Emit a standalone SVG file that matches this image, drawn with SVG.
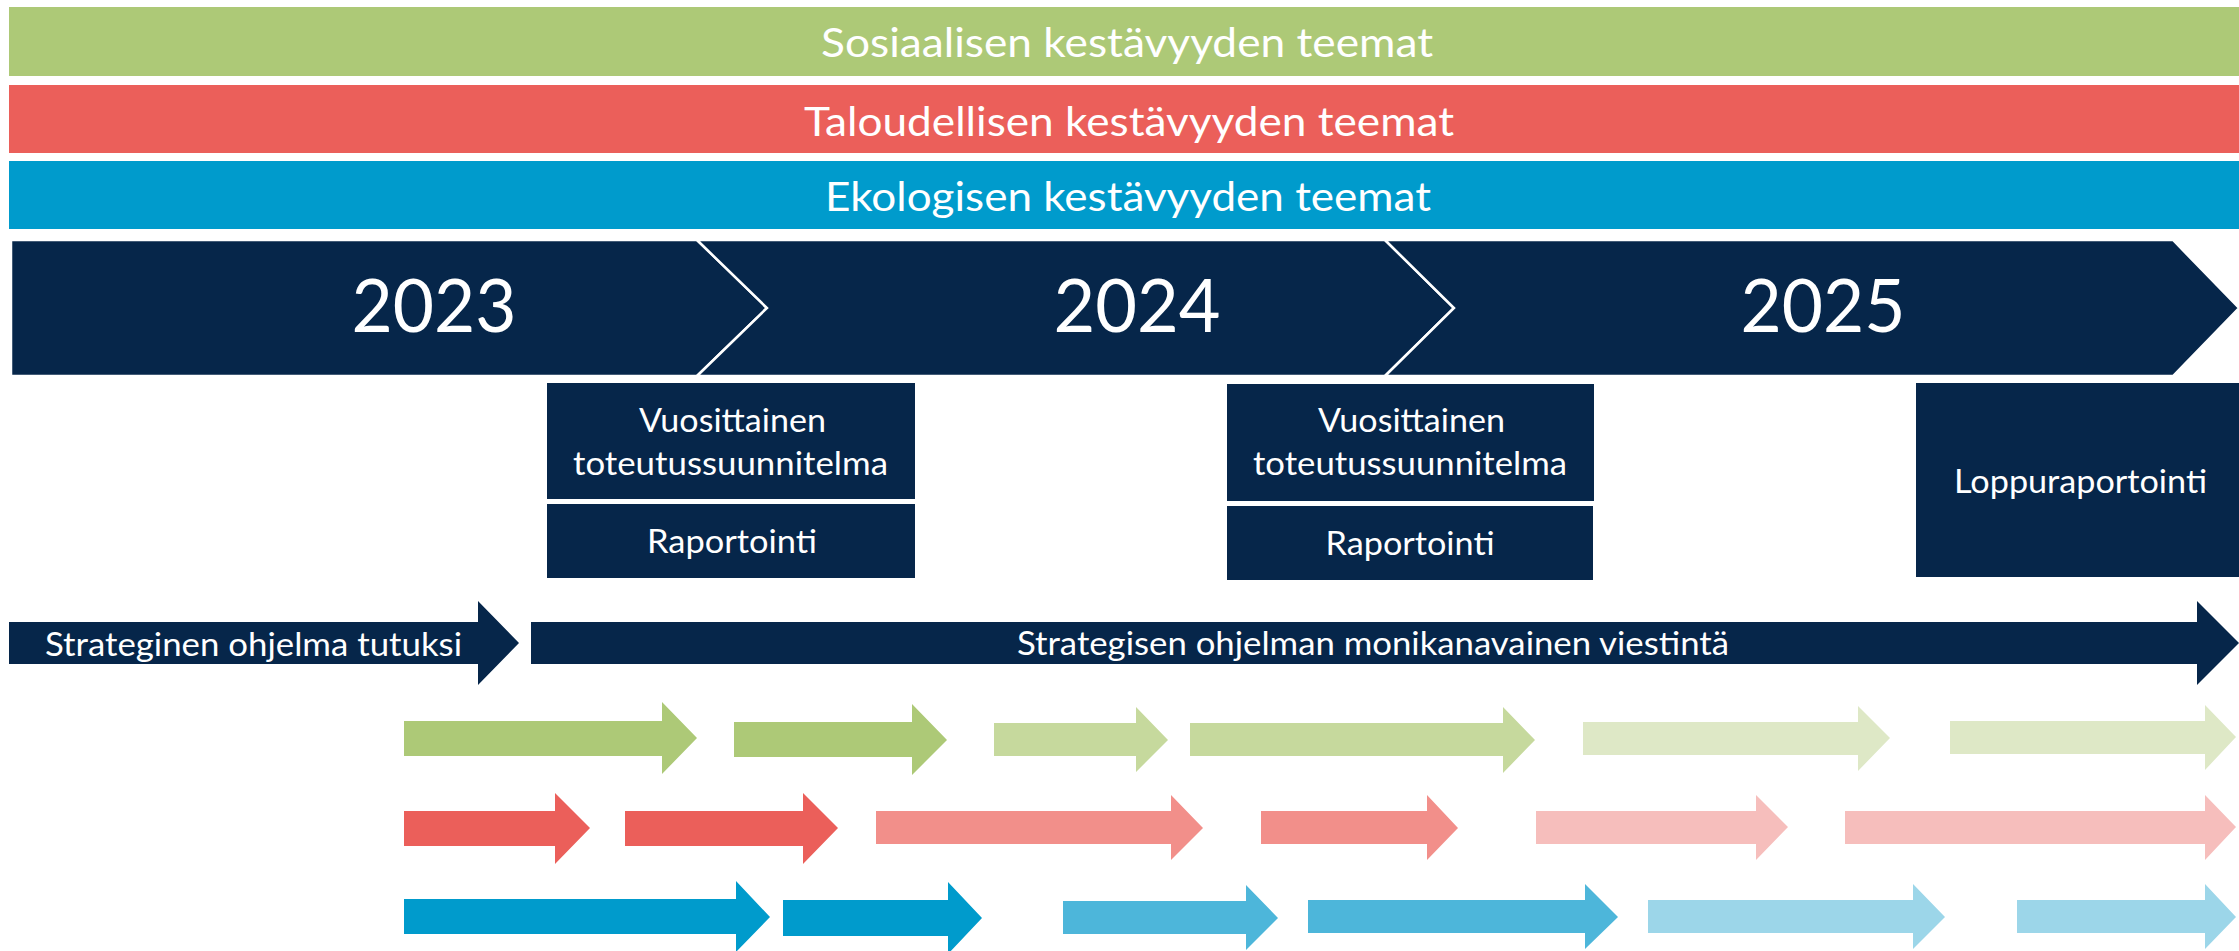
<svg xmlns="http://www.w3.org/2000/svg" width="2239" height="951" viewBox="0 0 2239 951">
<style>
.navy{fill:#06264A}
.g1{fill:#ADC977}.g2{fill:#C6D99D}.g3{fill:#DEE8C6}
.r1{fill:#EB5F5A}.r2{fill:#F28F8A}.r3{fill:#F6BEBC}
.b1{fill:#009BCC}.b2{fill:#4DB6DA}.b3{fill:#9CD6E9}
.chev{fill:#06264A;stroke:#FFFFFF;stroke-width:2.5;stroke-linejoin:miter}
text{font-family:Lato,"Open Sans","Liberation Sans",sans-serif;fill:#FFFFFF;text-anchor:middle}
.t-band{font-size:41px}
.t-year{font-size:74px}
.t-box{font-size:33px}
</style>
<rect width="2239" height="951" fill="#FFFFFF"/>

<g id="band-social">
<rect x="9" y="7" width="2230" height="69" class="g1"/>
<text x="1127" y="57" class="t-band" textLength="612" lengthAdjust="spacingAndGlyphs">Sosiaalisen kestävyyden teemat</text>
</g>
<g id="band-economic">
<rect x="9" y="85" width="2230" height="68" class="r1"/>
<text x="1129" y="136" class="t-band" textLength="650" lengthAdjust="spacingAndGlyphs">Taloudellisen kestävyyden teemat</text>
</g>
<g id="band-ecological">
<rect x="9" y="161" width="2230" height="68" class="b1"/>
<text x="1128" y="211" class="t-band" textLength="606" lengthAdjust="spacingAndGlyphs">Ekologisen kestävyyden teemat</text>
</g>

<g id="year-2023">
<polygon class="chev" points="11,240 697,240 767,308 697,376 11,376"/>
<text x="434" y="332" class="t-year" textLength="165" lengthAdjust="spacingAndGlyphs">2023</text>
</g>
<g id="year-2024">
<polygon class="chev" points="697,240 1385,240 1454,308 1385,376 697,376 767,308"/>
<text x="1137" y="332" class="t-year" textLength="167" lengthAdjust="spacingAndGlyphs">2024</text>
</g>
<g id="year-2025">
<polygon class="chev" points="1385,240 2173,240 2239,308 2173,376 1385,376 1454,308"/>
<text x="1823" y="332" class="t-year" textLength="165" lengthAdjust="spacingAndGlyphs">2025</text>
</g>

<g id="plan-2023">
<rect x="547" y="383" width="368" height="116" class="navy"/>
<text x="732.5" y="432" class="t-box" textLength="187" lengthAdjust="spacingAndGlyphs">Vuosittainen</text>
<text x="730.5" y="475" class="t-box" textLength="315" lengthAdjust="spacingAndGlyphs">toteutussuunnitelma</text>
</g>
<g id="report-2023">
<rect x="547" y="504" width="368" height="74" class="navy"/>
<text x="732" y="553" class="t-box" textLength="170" lengthAdjust="spacingAndGlyphs">Raportointi</text>
</g>
<g id="plan-2024">
<rect x="1227" y="384" width="367" height="117" class="navy"/>
<text x="1411.5" y="432" class="t-box" textLength="187" lengthAdjust="spacingAndGlyphs">Vuosittainen</text>
<text x="1410" y="475" class="t-box" textLength="314" lengthAdjust="spacingAndGlyphs">toteutussuunnitelma</text>
</g>
<g id="report-2024">
<rect x="1227" y="506" width="366" height="74" class="navy"/>
<text x="1410" y="555" class="t-box" textLength="169" lengthAdjust="spacingAndGlyphs">Raportointi</text>
</g>
<g id="final-report">
<rect x="1916" y="383" width="323" height="194" class="navy"/>
<text x="2080.5" y="493" class="t-box" textLength="253" lengthAdjust="spacingAndGlyphs">Loppuraportointi</text>
</g>

<g id="strategy-intro">
<polygon class="navy" points="9,622 478,622 478,601 519,643 478,685 478,664 9,664"/>
<text x="253.5" y="656" class="t-box" textLength="417" lengthAdjust="spacingAndGlyphs">Strateginen ohjelma tutuksi</text>
</g>
<g id="strategy-communication">
<polygon class="navy" points="531,622 2197,622 2197,601 2239,643 2197,685 2197,664 531,664"/>
<text x="1373" y="655" class="t-box" textLength="712" lengthAdjust="spacingAndGlyphs">Strategisen ohjelman monikanavainen viestintä</text>
</g>

<g id="connectors">
<g id="social-arrows">
<polygon class="g1" points="404,721 662,721 662,702 697,738 662,774 662,756 404,756"/>
<polygon class="g1" points="734,722 912,722 912,704 947,740 912,775 912,757 734,757"/>
<polygon class="g2" points="994,723 1136,723 1136,707 1168,740 1136,772 1136,756 994,756"/>
<polygon class="g2" points="1190,723 1503,723 1503,707 1535,740 1503,773 1503,756 1190,756"/>
<polygon class="g3" points="1583,722 1858,722 1858,706 1890,738 1858,771 1858,755 1583,755"/>
<polygon class="g3" points="1950,721 2205,721 2205,705 2236,737 2205,770 2205,754 1950,754"/>
</g>
<g id="economic-arrows">
<polygon class="r1" points="404,811 555,811 555,793 590,828 555,864 555,846 404,846"/>
<polygon class="r1" points="625,811 803,811 803,793 838,828 803,864 803,846 625,846"/>
<polygon class="r2" points="876,811 1171,811 1171,795 1203,828 1171,860 1171,844 876,844"/>
<polygon class="r2" points="1261,811 1427,811 1427,795 1458,828 1427,860 1427,844 1261,844"/>
<polygon class="r3" points="1536,811 1756,811 1756,795 1788,827 1756,860 1756,844 1536,844"/>
<polygon class="r3" points="1845,811 2205,811 2205,795 2236,827 2205,860 2205,844 1845,844"/>
</g>
<g id="ecological-arrows">
<polygon class="b1" points="404,899 736,899 736,881 770,917 736,952 736,934 404,934"/>
<polygon class="b1" points="783,900 948,900 948,882 982,918 948,954 948,936 783,936"/>
<polygon class="b2" points="1063,901 1246,901 1246,885 1278,918 1246,950 1246,934 1063,934"/>
<polygon class="b2" points="1308,900 1585,900 1585,884 1618,917 1585,949 1585,933 1308,933"/>
<polygon class="b3" points="1648,900 1913,900 1913,884 1945,917 1913,949 1913,933 1648,933"/>
<polygon class="b3" points="2017,900 2205,900 2205,884 2236,917 2205,949 2205,933 2017,933"/>
</g>
</g>
</svg>
